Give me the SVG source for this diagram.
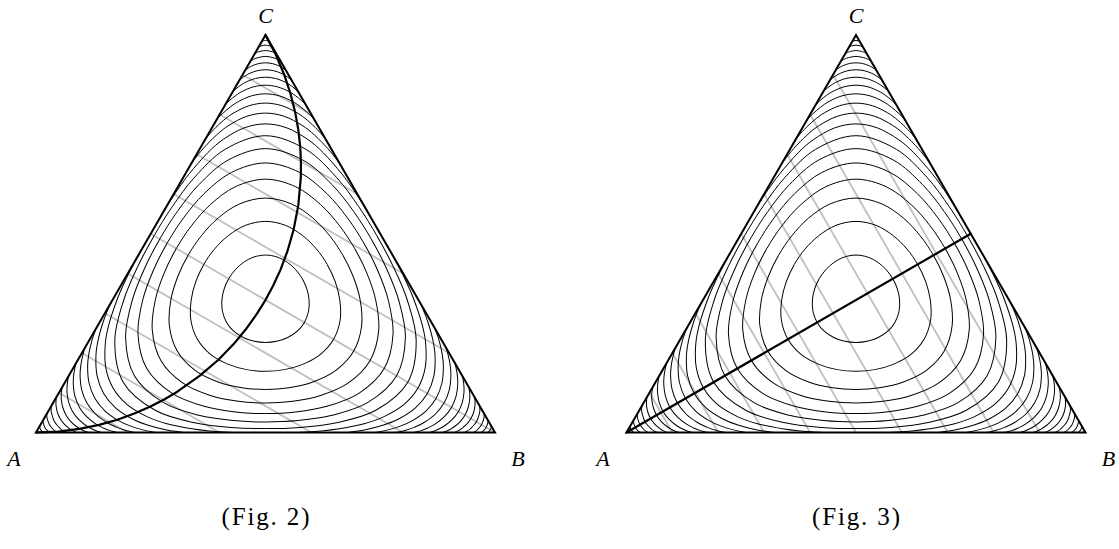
<svg xmlns="http://www.w3.org/2000/svg" width="1119" height="549" viewBox="0 0 1119 549">
<style>
.c{fill:none;stroke:#000;stroke-width:1}
.g{fill:none;stroke:#c0c0c0;stroke-width:1.8}
.e{fill:none;stroke:#000;stroke-width:2;stroke-linejoin:miter;stroke-miterlimit:20}
.t{fill:none;stroke:#000;stroke-width:2.2;stroke-linejoin:round;stroke-linecap:round}
.l{font-family:"Liberation Serif","Times New Roman",serif;font-style:italic;font-size:22px;fill:#000}
.f{font-family:"Liberation Serif","Times New Roman",serif;font-size:25px;fill:#000}
</style>
<defs>
<g id="third">
<path d="M-0.98,-263.31 Q0,-263.6 0.98,-263.31"/>
<path d="M-3.69,-258.61 L-3.41,-258.78 L-2.34,-259.2 C-1.2,-259.45 -0.6,-259.51 0,-259.51 C0.6,-259.51 1.2,-259.45 2.34,-259.2 L3.41,-258.78 L3.69,-258.61"/>
<path d="M-7.06,-252.77 L-6.01,-253.43 L-4.41,-254.08 C-2.6,-254.6 -1.2,-254.78 0,-254.78 C1.2,-254.78 2.6,-254.6 4.41,-254.08 L6.01,-253.43 L7.06,-252.77"/>
<path d="M-11,-245.95 C-10.65,-246.55 -9.99,-246.75 -9.28,-247.14 C-8.57,-247.53 -8.31,-247.89 -6.76,-248.27 C-5.21,-248.66 -2.25,-249.45 0,-249.45 C2.25,-249.45 5.21,-248.66 6.76,-248.27 C8.31,-247.89 8.57,-247.53 9.28,-247.14 C9.99,-246.75 10.65,-246.55 11,-245.95"/>
<path d="M-15.5,-238.16 C-14.98,-239.06 -14,-239.42 -12.98,-240.02 C-11.96,-240.63 -11.54,-241.2 -9.38,-241.79 C-7.22,-242.38 -3.13,-243.58 0,-243.58 C3.13,-243.58 7.22,-242.38 9.38,-241.79 C11.54,-241.2 11.96,-240.63 12.98,-240.02 C14,-239.42 14.98,-239.06 15.5,-238.16"/>
<path d="M-20.61,-229.3 C-20.18,-230.05 -19.46,-230.39 -18.65,-230.99 C-17.84,-231.59 -16.81,-232.29 -15.75,-232.9 C-14.69,-233.51 -13.8,-234.05 -12.27,-234.64 C-10.74,-235.23 -8.64,-236.04 -6.59,-236.46 C-4.55,-236.88 -2.2,-237.18 0,-237.18 C2.2,-237.18 4.55,-236.88 6.59,-236.46 C8.64,-236.04 10.74,-235.23 12.27,-234.64 C13.8,-234.05 14.69,-233.51 15.75,-232.9 C16.81,-232.29 17.84,-231.59 18.65,-230.99 C19.46,-230.39 20.18,-230.05 20.61,-229.3"/>
<path d="M-26.42,-219.25 C-25.82,-220.29 -24.83,-220.83 -23.75,-221.69 C-22.67,-222.55 -21.32,-223.54 -19.93,-224.39 C-18.55,-225.24 -17.39,-225.98 -15.44,-226.8 C-13.49,-227.62 -10.82,-228.71 -8.25,-229.29 C-5.68,-229.87 -2.75,-230.26 0,-230.26 C2.75,-230.26 5.68,-229.87 8.25,-229.29 C10.82,-228.71 13.49,-227.62 15.44,-226.8 C17.39,-225.98 18.55,-225.24 19.93,-224.39 C21.32,-223.54 22.67,-222.55 23.75,-221.69 C24.83,-220.83 25.82,-220.29 26.42,-219.25"/>
<path d="M-33.03,-207.8 C-32.21,-209.23 -30.89,-210.06 -29.48,-211.25 C-28.07,-212.45 -26.31,-213.81 -24.55,-214.97 C-22.79,-216.13 -21.32,-217.14 -18.9,-218.23 C-16.48,-219.32 -13.19,-220.77 -10.04,-221.53 C-6.89,-222.29 -3.35,-222.8 0,-222.8 C3.35,-222.8 6.89,-222.29 10.04,-221.53 C13.19,-220.77 16.48,-219.32 18.9,-218.23 C21.32,-217.14 22.79,-216.13 24.55,-214.97 C26.31,-213.81 28.07,-212.45 29.48,-211.25 C30.89,-210.06 32.21,-209.23 33.03,-207.8"/>
<path d="M-40.64,-194.62 C-39.51,-196.57 -37.77,-197.82 -35.94,-199.47 C-34.11,-201.12 -31.89,-202.97 -29.68,-204.53 C-27.47,-206.1 -25.64,-207.42 -22.69,-208.86 C-19.74,-210.3 -15.76,-212.16 -11.98,-213.15 C-8.2,-214.14 -3.99,-214.78 0,-214.78 C3.99,-214.78 8.2,-214.14 11.98,-213.15 C15.76,-212.16 19.74,-210.3 22.69,-208.86 C25.64,-207.42 27.47,-206.1 29.68,-204.53 C31.89,-202.97 34.11,-201.12 35.94,-199.47 C37.77,-197.82 39.51,-196.57 40.64,-194.62"/>
<path d="M-49.58,-179.13 C-48.03,-181.82 -45.69,-183.72 -43.32,-186.01 C-40.96,-188.3 -38.14,-190.79 -35.39,-192.89 C-32.64,-194.99 -30.39,-196.72 -26.84,-198.59 C-23.29,-200.46 -18.54,-202.84 -14.07,-204.1 C-9.6,-205.36 -4.69,-206.17 0,-206.17 C4.69,-206.17 9.6,-205.36 14.07,-204.1 C18.54,-202.84 23.29,-200.46 26.84,-198.59 C30.39,-196.72 32.64,-194.99 35.39,-192.89 C38.14,-190.79 40.96,-188.3 43.32,-186.01 C45.69,-183.72 48.03,-181.82 49.58,-179.13"/>
<path d="M-60.49,-160.23 C-59.85,-161.34 -59.57,-161.6 -58.14,-163.28 C-56.71,-164.97 -54.64,-167.59 -51.92,-170.34 C-49.2,-173.09 -45.24,-176.97 -41.82,-179.79 C-38.4,-182.61 -35.66,-184.86 -31.41,-187.28 C-27.16,-189.7 -21.57,-192.7 -16.33,-194.3 C-11.1,-195.9 -5.44,-196.89 0,-196.89 C5.44,-196.89 11.1,-195.9 16.33,-194.3 C21.57,-192.7 27.16,-189.7 31.41,-187.28 C35.66,-184.86 38.4,-182.61 41.82,-179.79 C45.24,-176.97 49.2,-173.09 51.92,-170.34 C54.64,-167.59 56.71,-164.97 58.14,-163.28 C59.57,-161.6 59.85,-161.34 60.49,-160.23"/>
<path d="M-74.94,-135.2 C-73.87,-137.05 -73.33,-137.7 -71.22,-140.4 C-69.11,-143.1 -65.98,-147.35 -62.3,-151.42 C-58.63,-155.49 -53.47,-160.92 -49.17,-164.81 C-44.87,-168.7 -41.55,-171.6 -36.48,-174.74 C-31.42,-177.88 -24.86,-181.65 -18.78,-183.67 C-12.7,-185.7 -6.26,-186.89 0,-186.89 C6.26,-186.89 12.7,-185.7 18.78,-183.67 C24.86,-181.65 31.42,-177.88 36.48,-174.74 C41.55,-171.6 44.87,-168.7 49.17,-164.81 C53.47,-160.92 58.63,-155.49 62.3,-151.42 C65.98,-147.35 69.11,-143.1 71.22,-140.4 C73.33,-137.7 73.87,-137.05 74.94,-135.2"/>
<path d="M-101.66,-88.92 C-98.48,-94.44 -94.03,-101.04 -91.42,-105.05 C-88.81,-109.06 -88.6,-109.38 -86,-113 C-83.4,-116.63 -80.5,-121.1 -75.8,-126.8 C-71.1,-132.5 -63.41,-141.58 -57.8,-147.22 C-52.2,-152.86 -48.23,-156.51 -42.17,-160.65 C-36.11,-164.79 -28.49,-169.5 -21.46,-172.07 C-14.43,-174.64 -7.15,-176.08 0,-176.08 C7.15,-176.08 14.43,-174.64 21.46,-172.07 C28.49,-169.5 36.11,-164.79 42.17,-160.65 C48.23,-156.51 52.2,-152.86 57.8,-147.22 C63.41,-141.58 71.1,-132.5 75.8,-126.8 C80.5,-121.1 83.4,-116.63 86,-113 C88.6,-109.38 88.81,-109.06 91.42,-105.05 C94.03,-101.04 98.48,-94.44 101.66,-88.92"/>
<path d="M-111.36,-64.3 C-105.67,-74.15 -100.02,-83.53 -93.27,-93.27 C-86.52,-103.01 -79.69,-113.18 -70.87,-122.75 C-62.05,-132.32 -52.19,-143.75 -40.37,-150.68 C-28.56,-157.6 -13.46,-164.3 0,-164.3 C13.46,-164.3 28.56,-157.6 40.37,-150.68 C52.19,-143.75 62.05,-132.32 70.87,-122.75 C79.69,-113.18 86.52,-103.01 93.27,-93.27 C100.02,-83.53 105.67,-74.15 111.36,-64.3"/>
<path d="M-105.7,-61.03 C-100.31,-70.36 -94.82,-79.25 -88.3,-88.3 C-81.79,-97.36 -75.06,-106.73 -66.59,-115.33 C-58.12,-123.93 -48.58,-133.88 -37.48,-139.89 C-26.38,-145.89 -12.49,-151.38 0,-151.38 C12.49,-151.38 26.38,-145.89 37.48,-139.89 C48.58,-133.88 58.12,-123.93 66.59,-115.33 C75.06,-106.73 81.79,-97.36 88.3,-88.3 C94.82,-79.25 100.31,-70.36 105.7,-61.03"/>
<path d="M-98.38,-56.8 C-93.38,-65.46 -88.16,-73.74 -82,-82 C-75.83,-90.25 -69.36,-98.74 -61.39,-106.33 C-53.42,-113.92 -44.4,-122.41 -34.17,-127.53 C-23.94,-132.65 -11.39,-137.04 0,-137.04 C11.39,-137.04 23.94,-132.65 34.17,-127.53 C44.4,-122.41 53.42,-113.92 61.39,-106.33 C69.36,-98.74 75.83,-90.25 82,-82 C88.16,-73.74 93.38,-65.46 98.38,-56.8"/>
<path d="M-89.16,-51.48 C-84.63,-59.31 -79.81,-66.81 -74.13,-74.13 C-68.46,-81.46 -62.4,-88.92 -55.1,-95.43 C-47.8,-101.94 -39.51,-108.97 -30.33,-113.2 C-21.15,-117.43 -10.11,-120.82 0,-120.82 C10.11,-120.82 21.15,-117.43 30.33,-113.2 C39.51,-108.97 47.8,-101.94 55.1,-95.43 C62.4,-88.92 68.46,-81.46 74.13,-74.13 C79.81,-66.81 84.63,-59.31 89.16,-51.48"/>
<path d="M-77.41,-44.69 C-73.49,-51.47 -69.2,-57.98 -64.19,-64.19 C-59.18,-70.41 -53.74,-76.65 -47.33,-81.98 C-40.92,-87.3 -33.65,-92.8 -25.76,-96.13 C-17.87,-99.46 -8.59,-101.93 0,-101.93 C8.59,-101.93 17.87,-99.46 25.76,-96.13 C33.65,-92.8 40.92,-87.3 47.33,-81.98 C53.74,-76.65 59.18,-70.41 64.19,-64.19 C69.2,-57.98 73.49,-51.47 77.41,-44.69"/>
<path d="M-61.67,-35.61 C-58.56,-40.99 -55.05,-46.18 -50.97,-50.97 C-46.88,-55.76 -42.32,-60.41 -37.16,-64.35 C-31.99,-68.3 -26.2,-72.27 -20,-74.65 C-13.81,-77.02 -6.67,-78.61 0,-78.61 C6.67,-78.61 13.81,-77.02 20,-74.65 C26.2,-72.27 31.99,-68.3 37.16,-64.35 C42.32,-60.41 46.88,-55.76 50.97,-50.97 C55.05,-46.18 58.56,-40.99 61.67,-35.61"/>
<path d="M-36.79,-21.24 C-34.94,-24.44 -32.75,-27.5 -30.25,-30.25 C-27.75,-33 -24.92,-35.63 -21.8,-37.75 C-18.67,-39.87 -15.15,-41.8 -11.52,-42.99 C-7.89,-44.19 -3.84,-44.92 0,-44.92 C3.84,-44.92 7.89,-44.19 11.52,-42.99 C15.15,-41.8 18.67,-39.87 21.8,-37.75 C24.92,-35.63 27.75,-33 30.25,-30.25 C32.75,-27.5 34.94,-24.44 36.79,-21.24"/>
</g>
<g id="contours">
<use href="#third"/>
<use href="#third" transform="rotate(120)"/>
<use href="#third" transform="rotate(240)"/>
</g>
</defs>

<g id="fig2">
<g id="fig2-mlines" class="g">
<line x1="58.95" y1="392.75" x2="127.8" y2="432.5"/>
<line x1="81.9" y1="353" x2="219.6" y2="432.5"/>
<line x1="104.85" y1="313.25" x2="311.4" y2="432.5"/>
<line x1="127.8" y1="273.5" x2="403.2" y2="432.5"/>
<line x1="150.75" y1="233.75" x2="495" y2="432.5"/>
<line x1="173.7" y1="194" x2="449.1" y2="353"/>
<line x1="196.65" y1="154.25" x2="403.2" y2="273.5"/>
<line x1="219.6" y1="114.5" x2="357.3" y2="194"/>
<line x1="242.55" y1="74.75" x2="311.4" y2="114.5"/>
</g>
<g id="fig2-contours" class="c"><use href="#contours" transform="translate(265.5,300)"/></g>
<polyline id="fig2-curve" class="t" points="36,432.5 58.35,431.56 79.4,428.9 99.12,424.87 117.4,419.7 134.36,413.57 149.9,406.8 164.19,399.43 177.3,391.7 199.9,375.7 218.7,359.5 234.1,343.6 246.7,328.2 257,313.7 265.5,300 273.1,285.8 280.55,269.6 287.5,251 293.6,229.7 298.3,205.4 300.8,177.7 300.96,162.55 300.2,146.5 298.29,129.64 295.1,111.9 290.46,93.48 284.1,74.4 275.9,54.8 265.5,35"/>
<polygon id="fig2-triangle" class="e" points="36,432.5 495,432.5 265.5,35"/>
<text class="l" x="14" y="465.5" text-anchor="middle">A</text>
<text class="l" x="518" y="465.5" text-anchor="middle">B</text>
<text class="l" x="265.5" y="22.5" text-anchor="middle">C</text>
<text class="f" x="265.5" y="525" text-anchor="middle" textLength="88" lengthAdjust="spacing">(Fig. 2)</text>
</g>

<g id="fig3">
<g id="fig3-mlines" class="g">
<line x1="833.05" y1="74.75" x2="1039.6" y2="432.5"/>
<line x1="810.1" y1="114.5" x2="993.7" y2="432.5"/>
<line x1="787.15" y1="154.25" x2="947.8" y2="432.5"/>
<line x1="764.2" y1="194" x2="901.9" y2="432.5"/>
<line x1="741.25" y1="233.75" x2="856" y2="432.5"/>
<line x1="718.3" y1="273.5" x2="810.1" y2="432.5"/>
<line x1="695.35" y1="313.25" x2="764.2" y2="432.5"/>
<line x1="672.4" y1="353" x2="718.3" y2="432.5"/>
<line x1="649.45" y1="392.75" x2="672.4" y2="432.5"/>
</g>
<g id="fig3-contours" class="c"><use href="#contours" transform="translate(856,300)"/></g>
<line id="fig3-median" class="t" x1="626.5" y1="432.5" x2="970.75" y2="233.75"/>
<polygon id="fig3-triangle" class="e" points="626.5,432.5 1085.5,432.5 856,35"/>
<text class="l" x="603" y="465.5" text-anchor="middle">A</text>
<text class="l" x="1108.5" y="465.5" text-anchor="middle">B</text>
<text class="l" x="856" y="22.5" text-anchor="middle">C</text>
<text class="f" x="856" y="525" text-anchor="middle" textLength="88" lengthAdjust="spacing">(Fig. 3)</text>
</g>
</svg>
